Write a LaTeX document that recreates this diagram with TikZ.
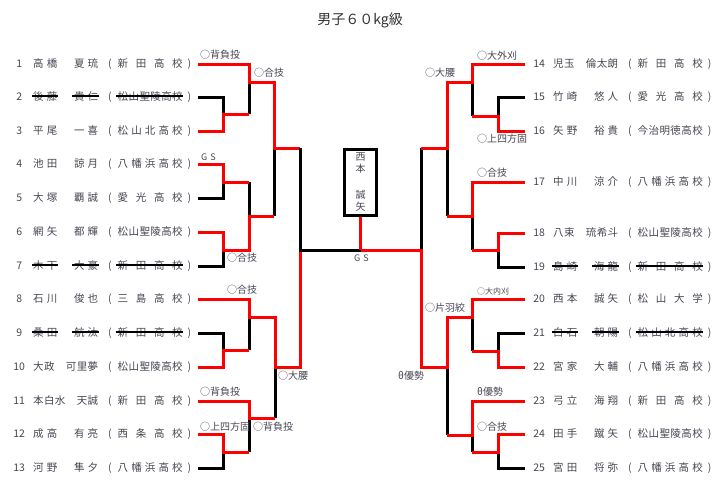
\documentclass[tikz,border=0pt]{standalone}
\usepackage{fontspec}
\setmainfont{Noto Sans CJK JP}
\usepackage{xcolor}

\definecolor{txt}{RGB}{70,70,82}
\definecolor{winred}{RGB}{255,0,0}

\makeatletter
\newcommand\fitw[1]{\makebox[65pt][s]{\@tfor\fw@c:=#1\do{\fw@c\hfill}\unskip}}
\makeatother
\newcommand\entry[3]{\makebox[14pt]{#1}\hspace{7pt}\fitw{#2}\hspace{10pt}(\hspace{6pt}\fitw{#3}\hspace{5pt})}

\tikzset{
  win/.style={draw=winred, line width=3pt},
  lose/.style={draw=black, line width=3pt},
  entry/.style={anchor=west, inner sep=0pt, text=txt, font=\fontsize{10.5}{12}\selectfont},
  tech/.style={anchor=west, inner sep=0pt, text=txt, font=\fontsize{10}{12}\selectfont},
  strike/.style={draw=black, line width=1.3pt},
}

\begin{document}
\begin{tikzpicture}[x=1pt, y=-1pt]
\useasboundingbox (0,0) rectangle (721,491);

% Title
\node[font=\fontsize{14}{16}\selectfont, text=black!80] (title) at (360,20) {男子６０kg級};

% Left players
\node[entry] (p1) at (12,64) {\entry{1}{高橋　夏琉}{新田高校}};
\node[entry] (p2) at (12,97) {\entry{2}{後藤　貴仁}{松山聖陵高校}};
\node[entry] (p3) at (12,131) {\entry{3}{平尾　一喜}{松山北高校}};
\node[entry] (p4) at (12,164) {\entry{4}{池田　諒月}{八幡浜高校}};
\node[entry] (p5) at (12,198) {\entry{5}{大塚　覇誠}{愛光高校}};
\node[entry] (p6) at (12,232) {\entry{6}{網矢　都輝}{松山聖陵高校}};
\node[entry] (p7) at (12,266) {\entry{7}{木下　大豪}{新田高校}};
\node[entry] (p8) at (12,299) {\entry{8}{石川　俊也}{三島高校}};
\node[entry] (p9) at (12,333) {\entry{9}{桑田　航汰}{新田高校}};
\node[entry] (p10) at (12,367) {\entry{10}{大政　可里夢}{松山聖陵高校}};
\node[entry] (p11) at (12,401) {\entry{11}{本白水　天誠}{新田高校}};
\node[entry] (p12) at (12,434) {\entry{12}{成高　有亮}{西条高校}};
\node[entry] (p13) at (12,468) {\entry{13}{河野　隼夕}{八幡浜高校}};

% Right players
\node[entry] (p14) at (532,64) {\entry{14}{児玉　倫太朗}{新田高校}};
\node[entry] (p15) at (532,97) {\entry{15}{竹崎　悠人}{愛光高校}};
\node[entry] (p16) at (532,131) {\entry{16}{矢野　裕貴}{今治明徳高校}};
\node[entry] (p17) at (532,182) {\entry{17}{中川　涼介}{八幡浜高校}};
\node[entry] (p18) at (532,233) {\entry{18}{八束　琉希斗}{松山聖陵高校}};
\node[entry] (p19) at (532,267) {\entry{19}{島崎　海龍}{新田高校}};
\node[entry] (p20) at (532,299) {\entry{20}{西本　誠矢}{松山大学}};
\node[entry] (p21) at (532,333) {\entry{21}{白石　朝陽}{松山北高校}};
\node[entry] (p22) at (532,367) {\entry{22}{宮家　大輔}{八幡浜高校}};
\node[entry] (p23) at (532,401) {\entry{23}{弓立　海翔}{新田高校}};
\node[entry] (p24) at (532,434) {\entry{24}{田手　蹴矢}{松山聖陵高校}};
\node[entry] (p25) at (532,468) {\entry{25}{宮田　将弥}{八幡浜高校}};

% Withdrawn entries
\draw[strike] (32,96)--(58,96) (72,96)--(99,96) (116,96)--(183,96);
\draw[strike] (32,265)--(58,265) (72,265)--(99,265) (116,265)--(183,265);
\draw[strike] (32,332)--(58,332) (72,332)--(99,332) (116,332)--(183,332);
\draw[strike] (552,266)--(578,266) (592,266)--(619,266) (636,266)--(703,266);
\draw[strike] (552,332)--(578,332) (592,332)--(619,332) (636,332)--(703,332);

% Left bracket: lost
\draw[lose] (198,97) -- (223,97) -- (223,114);
\draw[lose] (249,114) -- (249,82);
\draw[lose] (198,198) -- (223,198) -- (223,182);
\draw[lose] (249,182) -- (249,216);
\draw[lose] (198,266) -- (223,266) -- (223,250);
\draw[lose] (274,148) -- (274,216);
\draw[lose] (198,333) -- (223,333) -- (223,350);
\draw[lose] (249,317) -- (249,350);
\draw[lose] (198,468) -- (223,468) -- (223,452);
\draw[lose] (249,418) -- (249,452);
\draw[lose] (275,367) -- (275,418);

% Left bracket: won
\draw[win] (198,64) -- (249,64) -- (249,82) -- (274,82) -- (274,148) -- (300,148);
\draw[win] (198,131) -- (223,131) -- (223,114) -- (249,114);
\draw[win] (198,164) -- (223,164) -- (223,182) -- (249,182);
\draw[win] (198,232) -- (223,232) -- (223,250) -- (249,250) -- (249,216) -- (274,216);
\draw[win] (198,367) -- (223,367) -- (223,350) -- (249,350);
\draw[win] (198,434) -- (223,434) -- (223,452) -- (249,452);
\draw[win] (198,401) -- (249,401) -- (249,418) -- (275,418);
\draw[win] (198,299) -- (249,299) -- (249,317) -- (275,317) -- (275,367) -- (300,367) -- (300,250);

% Right bracket: lost
\draw[lose] (525,97) -- (498,97) -- (498,116);
\draw[lose] (472,82) -- (472,116);
\draw[lose] (447,148) -- (447,216);
\draw[lose] (472,216) -- (472,250);
\draw[lose] (525,267) -- (498,267) -- (498,250);
\draw[lose] (421,148) -- (421,250);
\draw[lose] (472,317) -- (472,351);
\draw[lose] (525,333) -- (498,333) -- (498,351);
\draw[lose] (447,367) -- (447,435);
\draw[lose] (472,435) -- (472,452);
\draw[lose] (525,468) -- (498,468) -- (498,452);

% Right bracket: won
\draw[win] (525,64) -- (472,64) -- (472,82) -- (447,82) -- (447,148) -- (421,148);
\draw[win] (525,131) -- (498,131) -- (498,116) -- (472,116);
\draw[win] (525,182) -- (472,182) -- (472,216) -- (447,216);
\draw[win] (525,233) -- (498,233) -- (498,250) -- (472,250);
\draw[win] (525,367) -- (498,367) -- (498,351) -- (472,351);
\draw[win] (525,401) -- (472,401) -- (472,435) -- (447,435);
\draw[win] (525,434) -- (498,434) -- (498,452) -- (472,452);

% Final
\node[draw, line width=2.5pt, minimum width=32pt, minimum height=66pt, inner sep=0pt,
      align=center, text=txt, font=\fontsize{10}{12}\selectfont] (champ) at (360.5,182.5)
      {西\\本\\[14pt]誠\\矢};
\coordinate (fin) at (360.5,250);
\draw[lose] (300,148) -- (300,250) -- (fin);
\draw[win] (525,299) -- (472,299) -- (472,317) -- (447,317) -- (447,367) -- (421,367) -- (421,250) -- (fin);
\draw[win] (champ) -- (fin);

% Technique labels
\node[tech] (k1) at (200,55) {○背負投};
\node[tech] (k2) at (254,73) {○合技};
\node[tech, font=\fontsize{9}{11}\selectfont] (k3) at (201,157) {G\hspace{3pt}S};
\node[tech] (k4) at (227,258) {○合技};
\node[tech] (k5) at (227,290) {○合技};
\node[tech] (k6) at (278,376) {○大腰};
\node[tech] (k7) at (200,392) {○背負投};
\node[tech] (k8) at (200,427) {○上四方固};
\node[tech] (k9) at (253,427) {○背負投};
\node[tech] (k10) at (425,73) {○大腰};
\node[tech] (k11) at (477,56) {○大外刈};
\node[tech] (k12) at (477,139) {○上四方固};
\node[tech] (k13) at (477,173) {○合技};
\node[tech, font=\fontsize{8}{10}\selectfont] (k14) at (477,291) {○大内刈};
\node[tech] (k15) at (425,308) {○片羽絞};
\node[tech] (k16) at (398,376) {θ優勢};
\node[tech] (k17) at (477,392) {θ優勢};
\node[tech] (k18) at (477,427) {○合技};
\node[tech, font=\fontsize{9}{11}\selectfont] (k19) at (354,258) {G\hspace{3pt}S};
\end{tikzpicture}
\end{document}
